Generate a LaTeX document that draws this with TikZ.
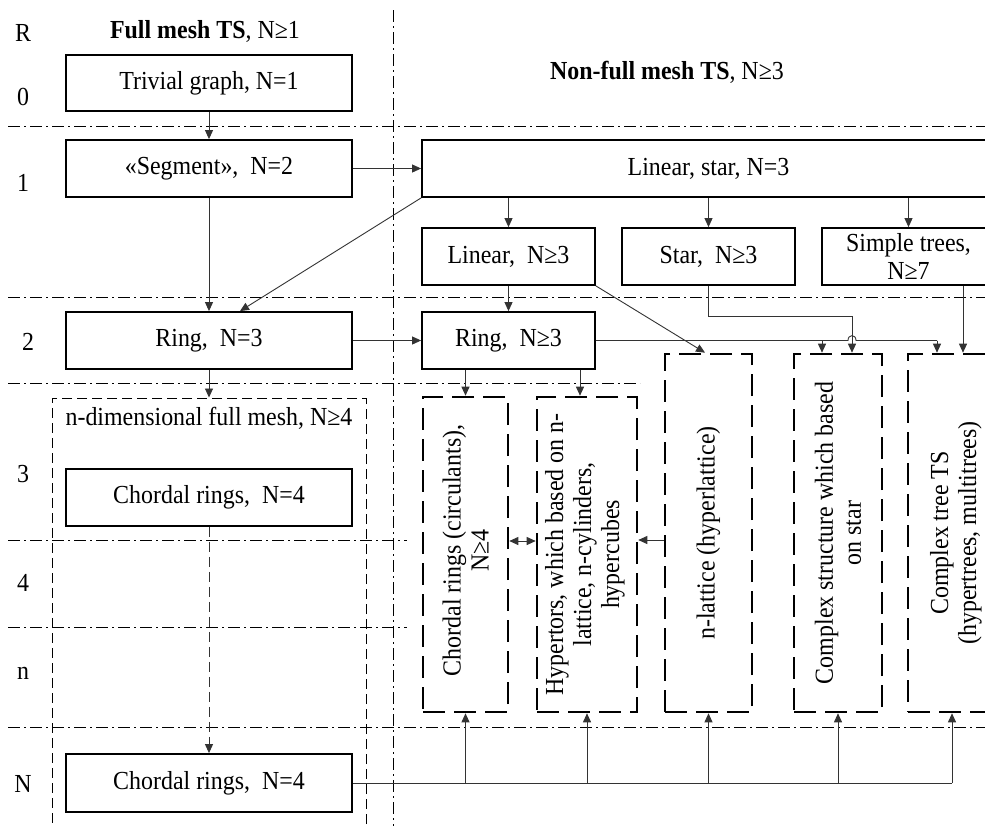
\documentclass[tikz,border=0pt]{standalone}
\usepackage{fontspec}
\setmainfont{Liberation Serif}[FakeStretch=0.92]
\usetikzlibrary{arrows.meta}
\begin{document}
\begin{tikzpicture}[x=1pt,y=-1pt,
  font=\fontsize{26}{28}\selectfont,
  gridline/.style={line width=0.9pt, dash pattern=on 12pt off 4pt on 2pt off 4pt, black},
  box/.style={draw, fill=white, line width=1.8pt, inner sep=0pt, align=center},
  dbox/.style={draw, line width=2.6pt, dash pattern=on 22pt off 9pt, inner sep=0pt},
  tdbox/.style={draw, line width=1pt, dash pattern=on 10pt off 5pt, inner sep=0pt},
  vtext/.style={rotate=90, align=center, inner sep=0pt},
  conn/.style={line width=0.9pt, black!80},
  arr/.style={conn, -{Triangle[length=9pt,width=8pt]}},
  arrb/.style={conn, {Triangle[length=9pt,width=8pt]}-{Triangle[length=9pt,width=8pt]}},
  lbl/.style={inner sep=0pt}
]
\useasboundingbox (0,0) rectangle (985,825);
\clip (0,0) rectangle (985,825);
\fill[white] (0,0) rectangle (985,825);

% grid lines
\draw[gridline] (393,10) -- (393,830);
\draw[gridline] (8,126) -- (990,126);
\draw[gridline] (8,297) -- (990,297);
\draw[gridline] (8,383) -- (640,383);
\draw[gridline] (8,540) -- (407,540);
\draw[gridline] (8,627) -- (407,627);
\draw[gridline] (8,727) -- (990,727);

% row labels
\node[lbl] (rR) at (23,33) {R};
\node[lbl] (r0) at (23,97) {0};
\node[lbl] (r1) at (23,183) {1};
\node[lbl] (r2) at (28,342) {2};
\node[lbl] (r3) at (23,474) {3};
\node[lbl] (r4) at (23,583) {4};
\node[lbl] (rn) at (23,673) {n};
\node[lbl] (rN) at (23,784) {N};

% headers
\node[lbl] (h1) at (205,31) {\textbf{Full mesh TS}, N≥1};
\node[lbl] (h2) at (667,72) {\textbf{Non-full mesh TS}, N≥3};

% full mesh column
\node[box, minimum width=286pt, minimum height=56pt] (triv) at (209,83) {Trivial graph, N=1};
\node[box, minimum width=286pt, minimum height=57pt] (seg) at (209,168.5) {«Segment», \ N=2};
\node[box, minimum width=286pt, minimum height=57pt] (ring3) at (209,340.5) {Ring, \ N=3};
\node[tdbox, minimum width=314pt, minimum height=442pt] (ndim) at (209,619) {};
\node[lbl] (ndimT) at (209,418) {n-dimensional full mesh, N≥4};
\node[box, minimum width=286pt, minimum height=57pt] (chord3) at (209,497.5) {Chordal rings, \ N=4};
\node[box, minimum width=286pt, minimum height=58pt] (chordN) at (209,783) {Chordal rings, \ N=4};

% non-full mesh column
\node[box, minimum width=573pt, minimum height=57pt] (linstar) at (708.5,168.5) {Linear, star, N=3};
\node[box, minimum width=173pt, minimum height=57pt] (lin) at (508.5,256.5) {Linear, \ N≥3};
\node[box, minimum width=173pt, minimum height=57pt] (star) at (708.5,256.5) {Star, \ N≥3};
\node[box, minimum width=173pt, minimum height=57pt] (trees) at (908.5,256.5) {Simple trees,\\N≥7};
\node[box, minimum width=173pt, minimum height=57pt] (ringN) at (508.5,340.5) {Ring, \ N≥3};

\node[dbox, minimum width=85pt, minimum height=315pt] (circ) at (465.5,554.5) {};
\node[vtext] (circT) at ([yshift=4pt]circ.center) {Chordal rings (circulants),\\N≥4};
\node[dbox, minimum width=100pt, minimum height=315pt] (hyper) at (587,554.5) {};
\node[vtext] (hyperT) at ([xshift=-2pt]hyper.center) {Hypertors, which based on n-\\lattice, n-cylinders,\\hypercubes};
\node[dbox, minimum width=87pt, minimum height=358pt] (nlat) at (708.5,533) {};
\node[vtext] (nlatT) at (nlat.center) {n-lattice (hyperlattice)};
\node[dbox, minimum width=88pt, minimum height=358pt] (cstar) at (838,533) {};
\node[vtext] (cstarT) at (cstar.center) {Complex structure which based\\on star};
\node[dbox, minimum width=92pt, minimum height=358pt] (ctree) at (954,533) {};
\node[vtext] (ctreeT) at ([xshift=2pt]ctree.center) {Complex tree TS\\(hypertrees, multitrees)};

% connectors: full mesh
\draw[arr] (triv) -- (seg);
\draw[arr] (seg) -- (linstar);
\draw[arr] (seg) -- (ring3);
\draw[arr] (linstar.south west) -- ([xshift=31pt]ring3.north);
\draw[arr] (ring3) -- (ringN);
\draw[arr] (ring3.south) -- (ring3.south |- ndim.north);
\draw[arr, dash pattern=on 10pt off 5pt] (chord3) -- (chordN);

% connectors: non-full mesh
\draw[arr] (linstar.south -| lin.north) -- (lin.north);
\draw[arr] (linstar.south -| star.north) -- (star.north);
\draw[arr] (linstar.south -| trees.north) -- (trees.north);
\draw[arr] (lin) -- (ringN);
\draw[arr] (lin.south east) -- ([xshift=-3.5pt]nlat.north);

\coordinate (sb) at (852,316);
\draw[arr] (star.south) |- (sb) -- (sb |- cstar.north);

\coordinate (hopA) at (848,340.5);
\coordinate (hopB) at (856,340.5);
\coordinate (rEnd) at (937,340.5);
\draw[conn] (ringN.east) -- (hopA) .. controls (848,334) and (856,334) .. (hopB) -- (rEnd);
\draw[arr] (rEnd) -- (rEnd |- ctree.north);
\draw[arr] ([xshift=-16pt]cstar.north |- ringN.east) -- ([xshift=-16pt]cstar.north);
\draw[arr] ([xshift=54.5pt]trees.south) -- ([xshift=54.5pt]trees.south |- ctree.north);

\draw[arr] (ringN.south -| circ.north) -- (circ.north);
\draw[arr] ([xshift=-7pt]hyper.north |- ringN.south) -- ([xshift=-7pt]hyper.north);

\draw[arrb] ([yshift=13.5pt]circ.east) -- ([yshift=13.5pt]circ.east -| hyper.west);
\draw[arr] ([yshift=-7pt]nlat.west) -- ([yshift=-7pt]nlat.west -| hyper.east);

% bottom bus
\coordinate (busEnd) at (952,783);
\draw[conn] (chordN.east) -- (busEnd);
\draw[arr] (chordN.east -| circ.south) -- (circ.south);
\draw[arr] (chordN.east -| hyper.south) -- (hyper.south);
\draw[arr] (chordN.east -| nlat.south) -- (nlat.south);
\draw[arr] (chordN.east -| cstar.south) -- (cstar.south);
\draw[arr] (busEnd) -- (busEnd |- ctree.south);
\end{tikzpicture}
\end{document}
